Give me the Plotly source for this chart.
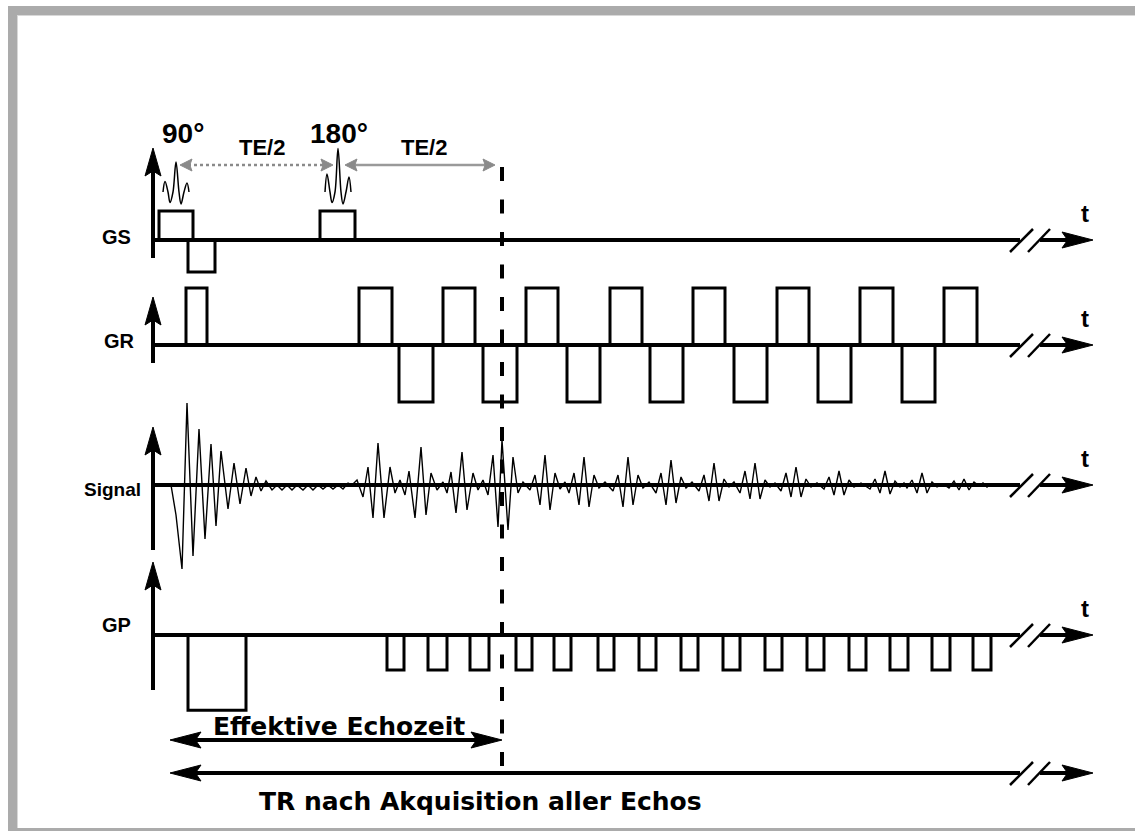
import plotly.graph_objects as go

# ---------------- data (time in arbitrary units, t = 0 at the axis origin) ----------------
channel_names = ["GS", "GR", "Signal", "GP"]

rf_labels = ["90°", "180°"]
rf_centers = [23, 185]
rf_offsets = [-13, -11, -8, -6, -3, 0, 3, 5, 8, 11, 13]
rf90_shape = [0, 0.35, 0, -0.35, 0, 1.0, 0, -0.4, 0, 0.3, 0]
rf180_shape = [0, 0.6, 0, -0.35, 0, 1.45, 0, -0.4, 0, 0.5, 0]

gs_start = [6, 35, 167]
gs_end = [40, 62, 202]
gs_amp = [1.0, -1.1, 1.0]

gr_start = [33, 206, 246, 290, 330, 373, 414, 457, 497, 540, 581, 624, 665, 707, 749, 791]
gr_end = [54, 239, 280, 322, 364, 405, 447, 489, 530, 572, 614, 656, 698, 740, 782, 824]
gr_amp = [1, 1, -1, 1, -1, 1, -1, 1, -1, 1, -1, 1, -1, 1, -1, 1]

gp_start = [35, 234, 275, 317, 363, 401, 445, 486, 528, 570, 612, 654, 696, 737, 779, 820]
gp_end = [93, 251, 294, 336, 379, 418, 461, 503, 545, 587, 629, 671, 713, 755, 797, 838]
gp_amp = [-2.15, -1, -1, -1, -1, -1, -1, -1, -1, -1, -1, -1, -1, -1, -1, -1]

fid_t = [18, 23, 29, 34, 40, 46, 52, 58, 63, 68, 75, 81, 87, 93, 98, 103, 108, 113, 119,
         124, 129, 134, 139, 144, 150, 155, 160, 165, 170, 175, 180, 185, 190, 195, 199]
fid_v = [0, -30, -84, 82, -71, 56, -54, 41, -41, 34, -24, 22, -19, 17, -11, 8, -6, 4, -5,
         0, -5, 0, -5, 0, -5, 0, -5, 0, -4, 0, -4, 0, -4, 2, 0]

echo_t = [204, 210, 215, 220, 225, 231, 237, 242, 247, 252, 256, 262, 268, 273, 278, 284,
          290, 294, 298, 303, 309, 314, 320, 325, 330, 335, 340, 345, 349, 355, 360, 365, 370,
          377, 382, 387, 392, 397, 402, 407, 412,
          416, 421, 426, 431, 436, 441, 446, 452,
          460, 465, 470, 475, 480, 485, 490, 496,
          503, 508, 513, 518, 523, 528, 533, 539,
          546, 551, 556, 561, 566, 571, 576, 581,
          587, 592, 597, 602, 607, 612, 617, 622,
          628, 633, 638, 643, 648, 653, 658, 664,
          671, 676, 681, 686, 691, 696, 701, 708,
          717, 722, 727, 732, 737, 742, 747, 751,
          754, 759, 764, 769, 774, 779, 784, 790,
          796, 801, 806, 811, 816, 821, 826, 830, 834, 837]
echo_v = [5, -12, 18, -33, 42, -33, 18, -8, 5, -10, 14, -33, 38, -30, 12, -5,
          3, -8, 13, -28, 33, -25, 12, -5, 5, -10, 30, -42, 45, -45, 28, -8, 3,
          -5, 10, -20, 30, -25, 12, -4, 3,
          -8, 12, -20, 28, -22, 10, -3, 3,
          -6, 10, -22, 28, -20, 10, -3, 3,
          -8, 12, -20, 25, -18, 8, -3, 3,
          -6, 10, -16, 22, -16, 6, -2, 3,
          -8, 14, -14, 22, -14, 5, -2, 2,
          -6, 12, -12, 18, -12, 6, -2, 2,
          -4, 8, -10, 14, -10, 5, -2, 2,
          -4, 6, -8, 14, -9, 4, -2, 2,
          -3, 5, -8, 12, -8, 3, -2, 1,
          -3, 4, -5, 6, -5, 3, -1, 2, -2, 0]

te_eff = 349          # effective echo time
t_end = 940           # end of the drawn time axis (arrow tip)
t_gap = [867, 887]    # axis break

# ---------------- layout constants ----------------
W, H = 1135, 831
X0 = 153                      # pixel of t = 0
CH = {"GS": (240, 29), "GR": (345, 57), "Signal": (485, 1), "GP": (635, 35), "RF": (192, 30)}
AX_DOWN = {"GS": 18, "GR": 18, "Signal": 65, "GP": 55}
AX_TIP = {"GS": 148, "GR": 297, "Signal": 427, "GP": 562}
LBL_X = {"GS": -20, "GR": -16, "Signal": -10, "GP": -20}
LBL_DY = {"GS": -3, "GR": -4, "Signal": 4, "GP": -10}
LBL_SIZE = {"GS": 20, "GR": 20, "Signal": 19, "GP": 20}
TE_Y, ECHO_Y, TR_Y = 165, 740, 773
ARROW_START = 17
FONT = "Liberation Sans, Arial, sans-serif"
NARROW = "Liberation Sans Narrow, Liberation Sans, Arial, sans-serif"
BIG = "DejaVu Sans, sans-serif"


def yrange(base, ppu):
    return [-(H - base) / ppu, base / ppu]


def rects(starts, ends, amps):
    xs, ys = [], []
    for s, e, a in zip(starts, ends, amps):
        xs += [s, s, e, e, None]
        ys += [0, a, a, 0, None]
    return xs, ys


def head(tx, ty, dx, dy, L, hw):
    nx, ny = -dy, dx
    bx, by = tx - L * dx, ty - L * dy
    mx, my = tx - 0.82 * L * dx, ty - 0.82 * L * dy
    return [tx, bx + hw * nx, mx, bx - hw * nx, tx, None], [ty, by + hw * ny, my, by - hw * ny, ty, None]


fig = go.Figure()

# decorations (pixel-like axis y6)
bx, by = [], []
vx, vy = [], []
sx, sy = [], []
hx, hy = [], []
for name in channel_names:
    b = CH[name][0]
    bx += [0, t_gap[0], None, t_gap[1], t_end - 25, None]
    by += [b, b, None, b, b, None]
    vx += [0, 0, None]
    vy += [b + AX_DOWN[name], AX_TIP[name] + 22, None]
    sx += [t_gap[0] - 10, t_gap[0] + 13, None, t_gap[0] + 8, t_gap[0] + 30, None]
    sy += [b + 12, b - 11, None, b + 12, b - 11, None]
    x1, y1 = head(t_end, b, 1, 0, 31, 8)
    x2, y2 = head(0, AX_TIP[name], 0, -1, 28, 8)
    hx += x1 + x2
    hy += y1 + y2

# bottom arrows
bx += [ARROW_START + 20, te_eff - 20, None]
by += [ECHO_Y, ECHO_Y, None]
bx += [ARROW_START + 20, t_gap[0], None, t_gap[1], t_end - 25, None]
by += [TR_Y, TR_Y, None, TR_Y, TR_Y, None]
sx += [t_gap[0] - 10, t_gap[0] + 13, None, t_gap[0] + 8, t_gap[0] + 30, None]
sy += [TR_Y + 12, TR_Y - 11, None, TR_Y + 12, TR_Y - 11, None]
for (tx, ty, d) in [(ARROW_START, ECHO_Y, -1), (te_eff, ECHO_Y, 1), (ARROW_START, TR_Y, -1), (t_end, TR_Y, 1)]:
    x1, y1 = head(tx, ty, d, 0, 31, 8)
    hx += x1
    hy += y1

fig.add_trace(go.Scatter(x=bx, y=by, mode="lines", line=dict(color="black", width=4), yaxis="y6"))
fig.add_trace(go.Scatter(x=vx, y=vy, mode="lines", line=dict(color="black", width=4), yaxis="y6"))
fig.add_trace(go.Scatter(x=sx, y=sy, mode="lines", line=dict(color="black", width=2.5), yaxis="y6"))
fig.add_trace(go.Scatter(x=hx, y=hy, mode="lines", fill="toself", fillcolor="black",
                         line=dict(color="black", width=1), yaxis="y6"))

# TE/2 arrows (gray)
te_l1 = [rf_centers[0] + 4, rf_centers[1] - 5]
te_l2 = [rf_centers[1] + 7, te_eff - 7]
fig.add_trace(go.Scatter(x=[te_l1[0] + 8, te_l1[1] - 8], y=[TE_Y, TE_Y], mode="lines",
                         line=dict(color="#8a8a8a", width=2.5, dash="dot"), yaxis="y6"))
fig.add_trace(go.Scatter(x=[te_l2[0] + 8, te_l2[1] - 8], y=[TE_Y, TE_Y], mode="lines",
                         line=dict(color="#9a9a9a", width=2.5), yaxis="y6"))
gx, gy = [], []
for (tx, d) in [(te_l1[0], -1), (te_l1[1], 1), (te_l2[0], -1), (te_l2[1], 1)]:
    x1, y1 = head(tx, TE_Y, d, 0, 12, 6)
    gx += x1
    gy += y1
fig.add_trace(go.Scatter(x=gx, y=gy, mode="lines", fill="toself", fillcolor="#8a8a8a",
                         line=dict(color="#8a8a8a", width=1), yaxis="y6"))

# gradients
x, y = rects(gs_start, gs_end, gs_amp)
fig.add_trace(go.Scatter(x=x, y=y, mode="lines", line=dict(color="black", width=3), yaxis="y"))
x, y = rects(gr_start, gr_end, gr_amp)
fig.add_trace(go.Scatter(x=x, y=y, mode="lines", line=dict(color="black", width=3), yaxis="y2"))
x, y = rects(gp_start, gp_end, gp_amp)
fig.add_trace(go.Scatter(x=x, y=y, mode="lines", line=dict(color="black", width=3), yaxis="y4"))

# RF pulses
rx, ry = [], []
for c, shape in zip(rf_centers, [rf90_shape, rf180_shape]):
    rx += [c + o for o in rf_offsets] + [None]
    ry += shape + [None]
fig.add_trace(go.Scatter(x=rx, y=ry, mode="lines", line=dict(color="black", width=1.5, shape="spline"),
                         yaxis="y5"))

# signal
fig.add_trace(go.Scatter(x=fid_t + echo_t, y=fid_v + echo_v, mode="lines",
                         line=dict(color="black", width=1.4), yaxis="y3"))

# annotations
ann = []
for name in channel_names:
    b = CH[name][0]
    ann.append(dict(x=LBL_X[name], y=b + LBL_DY[name], xref="x", yref="y6", xanchor="right",
                    yanchor="middle", text=f"<b>{name}</b>", showarrow=False,
                    font=dict(family=FONT, size=LBL_SIZE[name], color="black")))
    ann.append(dict(x=932, y=b - 27, xref="x", yref="y6", text="<b>t</b>", showarrow=False,
                    font=dict(family=FONT, size=24, color="black")))
for c, lab, dxl in zip(rf_centers, rf_labels, [7, 1]):
    ann.append(dict(x=c + dxl, y=133, xref="x", yref="y6", text=f"<b>{lab}</b>", showarrow=False,
                    font=dict(family=NARROW, size=28, color="black")))
for xm in [(te_l1[0] + te_l1[1]) / 2 + 5, (te_l2[0] + te_l2[1]) / 2 + 4]:
    ann.append(dict(x=xm, y=147, xref="x", yref="y6", text="<b>TE/2</b>", showarrow=False,
                    font=dict(family=NARROW, size=22, color="black")))
ann.append(dict(x=186, y=726, xref="x", yref="y6", text="<b>Effektive Echozeit</b>", showarrow=False,
                font=dict(family=BIG, size=25, color="black")))
ann.append(dict(x=327, y=801, xref="x", yref="y6", text="<b>TR nach Akquisition aller Echos</b>",
                showarrow=False, font=dict(family=BIG, size=25, color="black")))

# frame
gray = "#ababab"
shapes = [
    dict(type="rect", xref="paper", yref="paper", x0=8 / W, x1=17 / W, y0=0, y1=1 - 6 / H,
         fillcolor=gray, line=dict(width=0), layer="below"),
    dict(type="rect", xref="paper", yref="paper", x0=8 / W, x1=1, y0=1 - 15 / H, y1=1 - 6 / H,
         fillcolor=gray, line=dict(width=0), layer="below"),
    dict(type="rect", xref="paper", yref="paper", x0=8 / W, x1=1, y0=0, y1=3 / H,
         fillcolor=gray, line=dict(width=0), layer="below"),
    dict(type="rect", xref="paper", yref="paper", x0=17 / W, x1=18 / W, y0=3 / H, y1=1 - 15 / H,
         fillcolor="#d8d8d8", line=dict(width=0), layer="below"),
    dict(type="rect", xref="paper", yref="paper", x0=17 / W, x1=1, y0=1 - 16 / H, y1=1 - 15 / H,
         fillcolor="#d8d8d8", line=dict(width=0), layer="below"),
    dict(type="line", xref="x", yref="y6", x0=te_eff, x1=te_eff, y0=167, y1=767,
         line=dict(color="black", width=4, dash="14px,18.5px")),
]

ax_common = dict(visible=False, fixedrange=True, domain=[0, 1])
fig.update_layout(
    width=W, height=H, autosize=False,
    margin=dict(l=0, r=0, t=0, b=0, pad=0),
    paper_bgcolor="white", plot_bgcolor="white",
    showlegend=False, hovermode=False,
    xaxis=dict(range=[-X0, W - X0], visible=False, fixedrange=True, domain=[0, 1]),
    yaxis=dict(range=yrange(*CH["GS"]), **ax_common),
    yaxis2=dict(range=yrange(*CH["GR"]), overlaying="y", **ax_common),
    yaxis3=dict(range=yrange(*CH["Signal"]), overlaying="y", **ax_common),
    yaxis4=dict(range=yrange(*CH["GP"]), overlaying="y", **ax_common),
    yaxis5=dict(range=yrange(*CH["RF"]), overlaying="y", **ax_common),
    yaxis6=dict(range=[H, 0], overlaying="y", **ax_common),
    annotations=ann,
    shapes=shapes,
)

fig.write_html("out.html", config={"displayModeBar": False, "staticPlot": True})
